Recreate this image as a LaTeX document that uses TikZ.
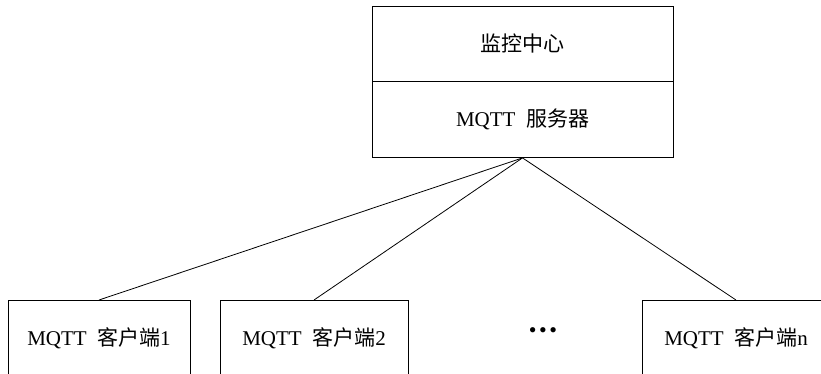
\documentclass[tikz,border=0pt]{standalone}
\usepackage{fontspec}
\setmainfont{Liberation Serif}
\newfontfamily\cjk{Noto Sans CJK SC}
\begin{document}
\begin{tikzpicture}[x=1pt,y=-1pt,
  every node/.style={font=\fontsize{21}{24}\selectfont},
  boxstyle/.style={draw=black, line width=0.9pt, inner sep=0pt, anchor=north},
  link/.style={draw=black, line width=0.8pt}]
\useasboundingbox (0,0) rectangle (821,373);
\clip (0,0) rectangle (821,373);
% top box
\node[boxstyle, minimum width=301pt, minimum height=75pt] (mon) at (522.5,6) {{\cjk 监控中心}};
\node[boxstyle, minimum width=301pt, minimum height=76pt] (srv) at (522.5,81) {MQTT\hspace{0.5em}{\cjk 服务器}};
% clients
\node[boxstyle, minimum width=182pt, minimum height=76pt] (c1) at (99,300) {MQTT\hspace{0.5em}{\cjk 客户端}1};
\node[boxstyle, minimum width=188pt, minimum height=76pt] (c2) at (314,300) {MQTT\hspace{0.5em}{\cjk 客户端}2};
\node[boxstyle, minimum width=188pt, minimum height=76pt] (cn) at (736,300) {MQTT\hspace{0.5em}{\cjk 客户端}n};
\node[font=\fontsize{22}{22}\selectfont] (dots) at (543,333) {•\hspace{2.5pt}•\hspace{2.5pt}•};
% links
\draw[link] (srv.south) -- (c1.north);
\draw[link] (srv.south) -- (c2.north);
\draw[link] (srv.south) -- (cn.north);
\end{tikzpicture}
\end{document}
